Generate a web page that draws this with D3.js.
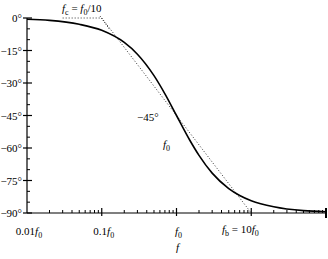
<!DOCTYPE html>
<html>
<head>
<meta charset="utf-8">
<script src="https://cdn.jsdelivr.net/npm/d3@7"></script>
<style>
  body { margin: 0; background: #fff; }
  text { font-family: "Liberation Serif", "DejaVu Serif", serif; font-size: 11px; fill: #000; }
</style>
</head>
<body>
<svg id="chart" width="328" height="259"></svg>
<script>
// frequency in units of f0, phase in degrees
const freqs  = [0.01, 0.02, 0.05, 0.1, 0.2, 0.3, 0.5, 0.7, 1, 1.5, 2, 3, 5, 7, 10, 20, 50, 100];
const phases = [-0.6, -1.1, -2.9, -5.7, -11.3, -16.7, -26.6, -35, -45, -56.3, -63.4, -71.6, -78.7, -81.9, -84.3, -87.1, -88.9, -89.4];
// straight-line approximation: flat to f0/10, then -45 deg per decade to 10 f0
const asymF  = [0.03, 0.1, 10];
const asymP  = [0, 0, -90];
const yTicks = [0, -15, -30, -45, -60, -75, -90];
const xTicks = [0.01, 0.1, 1, 10];

const svg = d3.select("#chart");
const x = d3.scaleLog().domain([0.01, 100]).range([27, 326]);
const y = d3.scaleLinear().domain([0, -90]).range([18, 213]);

// axes
svg.append("line").attr("x1", x(0.01)).attr("x2", x(100))
  .attr("y1", y(-90)).attr("y2", y(-90)).attr("stroke", "#000").attr("stroke-width", 1.2);
svg.append("line").attr("x1", x(0.01)).attr("x2", x(0.01))
  .attr("y1", y(0)).attr("y2", y(-90)).attr("stroke", "#000").attr("stroke-width", 1.2);

// y ticks
const yMinor = d3.range(0, -91, -5).filter(v => v % 15 !== 0);
svg.selectAll(".ymin").data(yMinor).join("line")
  .attr("x1", x(0.01)).attr("x2", x(0.01) + 3)
  .attr("y1", d => y(d)).attr("y2", d => y(d)).attr("stroke", "#000");
svg.selectAll(".ymaj").data(yTicks).join("line")
  .attr("x1", x(0.01) - 4).attr("x2", x(0.01) + 5)
  .attr("y1", d => y(d)).attr("y2", d => y(d)).attr("stroke", "#000").attr("stroke-width", 1.2);
svg.selectAll(".ylab").data(yTicks).join("text")
  .attr("x", 22).attr("y", d => y(d) + 4).attr("text-anchor", "end")
  .text(d => (d === 0 ? "0" : "\u2212" + Math.abs(d)) + "\u00b0");

// x ticks
const xMinor = [];
for (const dec of [0.01, 0.1, 1, 10]) for (let k = 2; k <= 9; k++) xMinor.push(dec * k);
svg.selectAll(".xmin").data(xMinor).join("line")
  .attr("x1", d => x(d)).attr("x2", d => x(d))
  .attr("y1", y(-90)).attr("y2", y(-90) - 3).attr("stroke", "#000");
svg.selectAll(".xmaj").data(xTicks.slice(1)).join("line")
  .attr("x1", d => x(d)).attr("x2", d => x(d))
  .attr("y1", y(-90) + 3).attr("y2", y(-90) - 5).attr("stroke", "#000").attr("stroke-width", 1.2);
svg.append("line").attr("x1", x(100)).attr("x2", x(100))
  .attr("y1", y(-90) - 5).attr("y2", y(-90) + 5).attr("stroke", "#000").attr("stroke-width", 2);

function fLabel(sel, pre) {
  if (pre) sel.append("tspan").text(pre);
  sel.append("tspan").attr("font-style", "italic").text("f");
  sel.append("tspan").attr("dy", 3).attr("font-size", 8).text("0");
}
const xLabelText = ["0.01", "0.1", "", null];
xTicks.forEach((v, i) => {
  if (xLabelText[i] === null) return;
  const t = svg.append("text").attr("x", x(v) + 2).attr("y", 235).attr("text-anchor", "middle");
  fLabel(t, xLabelText[i]);
});

// fb label
const fb = svg.append("text").attr("x", 222).attr("y", 233);
fb.append("tspan").attr("font-style", "italic").text("f");
fb.append("tspan").attr("dy", 3).attr("font-size", 8).text("b");
fb.append("tspan").attr("dy", -3).text(" = 10");
fb.append("tspan").attr("font-style", "italic").text("f");
fb.append("tspan").attr("dy", 3).attr("font-size", 8).text("0");

// axis title
svg.append("text").attr("x", 176).attr("y", 251).attr("font-style", "italic").text("f");

// asymptote (dotted)
svg.append("path")
  .attr("d", d3.line().x((d, i) => x(asymF[i])).y(d => y(d))(asymP))
  .attr("fill", "none").attr("stroke", "#000").attr("stroke-width", 0.8)
  .attr("stroke-dasharray", "1,2");

// fc label with arrow
const fc = svg.append("text").attr("x", 62).attr("y", 12);
fc.append("tspan").attr("font-style", "italic").text("f");
fc.append("tspan").attr("dy", 3).attr("font-size", 8).text("c");
fc.append("tspan").attr("dy", -3).text(" = ");
fc.append("tspan").attr("font-style", "italic").text("f");
fc.append("tspan").attr("dy", 3).attr("font-size", 8).text("0");
fc.append("tspan").attr("dy", -3).text("/10");
svg.append("line").attr("x1", 100).attr("y1", 16).attr("x2", 110).attr("y2", 30)
  .attr("stroke", "#000").attr("stroke-width", 0.8).attr("stroke-dasharray", "1,1.5");

// phase curve
svg.append("path")
  .attr("d", d3.line().x((d, i) => x(freqs[i])).y(d => y(d)).curve(d3.curveMonotoneX)(phases))
  .attr("fill", "none").attr("stroke", "#000").attr("stroke-width", 1.6);

// annotations
svg.append("text").attr("x", 137).attr("y", 121).text("\u221245\u00b0");
const f0 = svg.append("text").attr("x", 163).attr("y", 148);
fLabel(f0, null);
</script>
</body>
</html>
